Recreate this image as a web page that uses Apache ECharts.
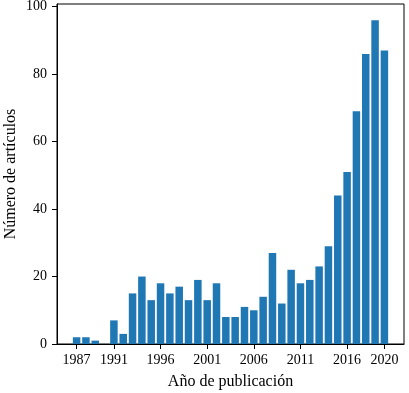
<!DOCTYPE html>
<html>
<head>
<meta charset="utf-8">
<script src="https://cdn.jsdelivr.net/npm/echarts@6/dist/echarts.min.js"></script>
<style>html,body{margin:0;padding:0;background:#fff;}#c{width:409px;height:393px;}</style>
</head>
<body>
<div id="c"></div>
<script>
const years = [1987,1988,1989,1990,1991,1992,1993,1994,1995,1996,1997,1998,1999,2000,2001,2002,2003,2004,2005,2006,2007,2008,2009,2010,2011,2012,2013,2014,2015,2016,2017,2018,2019,2020];
const counts = [2,2,1,0,7,3,15,20,13,18,15,17,13,19,13,18,8,8,11,10,14,27,12,22,18,19,23,29,44,51,69,86,96,87];
const xTicks = [1987,1991,1996,2001,2006,2011,2016,2020];
const yTicks = [0,20,40,60,80,100];

const font = "'Liberation Serif', 'Times New Roman', serif";
const chart = echarts.init(document.getElementById('c'), null, {renderer:'canvas'});
chart.setOption({
  animation: false,
  grid: {left: 57, right: 5, top: 4, bottom: 49, containLabel: false, outerBoundsMode: 'none', show: true, borderColor: '#000', borderWidth: 1, backgroundColor: 'transparent'},
  xAxis: {
    type: 'value', min: 1984.9, max: 2022.1,
    name: 'Año de publicación', nameLocation: 'middle', nameGap: 30, nameMoveOverlap: false,
    nameTextStyle: {fontFamily: font, fontSize: 16, color: '#000'},
    axisLine: {show: true, lineStyle: {color: '#000', width: 1}},
    axisTick: {show: true, length: 5, lineStyle: {color: '#000'}, customValues: xTicks},
    axisLabel: {fontFamily: font, fontSize: 14, color: '#000', margin: 9, customValues: xTicks, formatter: v => String(v)},
    splitLine: {show: false}
  },
  yAxis: {
    type: 'value', min: 0, max: 100.8,
    name: 'Número de artículos', nameLocation: 'middle', nameGap: 38, nameMoveOverlap: false,
    nameTextStyle: {fontFamily: font, fontSize: 16, color: '#000'},
    axisLine: {show: true, lineStyle: {color: '#000', width: 1}},
    axisTick: {show: true, length: 5, lineStyle: {color: '#000'}, customValues: yTicks},
    axisLabel: {fontFamily: font, fontSize: 14, color: '#000', margin: 10, customValues: yTicks, formatter: v => String(v)},
    splitLine: {show: false}
  },
  series: [{
    type: 'bar',
    data: years.map((y, i) => [y, counts[i]]),
    barWidth: 7.5,
    itemStyle: {color: '#1f77b4'}
  }]
});
</script>
</body>
</html>
